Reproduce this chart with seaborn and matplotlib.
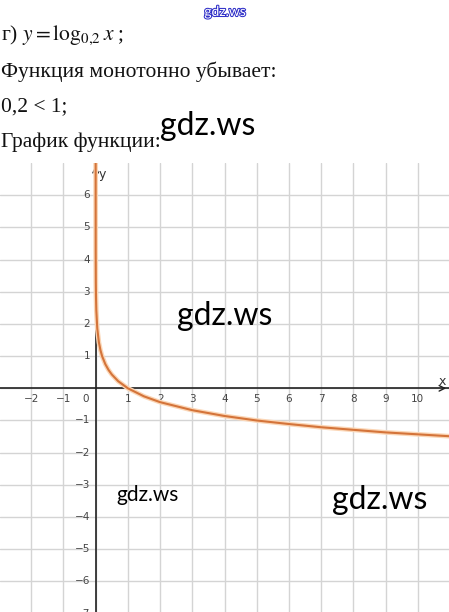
import numpy as np
import seaborn as sns
import matplotlib.pyplot as plt
import matplotlib.patheffects as pe

# points of y = log_0.2(x)
curve_x = [0.00001, 0.0001, 0.001, 0.005, 0.01, 0.02, 0.05, 0.1, 0.15, 0.2, 0.3,
           0.4, 0.5, 0.7, 1, 1.5, 2, 3, 4, 5, 6, 7, 8, 9, 10, 11]
curve_y = [7.15, 5.72, 4.29, 3.29, 2.86, 2.43, 1.86, 1.43, 1.18, 1.0, 0.75,
           0.57, 0.43, 0.22, 0.0, -0.25, -0.43, -0.68, -0.86, -1.0, -1.11,
           -1.21, -1.29, -1.37, -1.43, -1.49]

x_ticks = [-2, -1, 1, 2, 3, 4, 5, 6, 7, 8, 9, 10]
y_ticks = [6, 5, 4, 3, 2, 1, -1, -2, -3, -4, -5, -6, -7]

header_lines = [
    "г) $y = \\mathrm{log}_{0{,}2}\\, x$ ;",
    "Функция монотонно убывает:",
    "0,2 < 1;",
    "График функции:",
]

W, H = 449, 612

sns.set_style("white")
plt.rcParams["mathtext.fontset"] = "stix"
plt.rcParams["font.family"] = ["Liberation Serif", "DejaVu Serif"]

fig = plt.figure(figsize=(W / 100, H / 100), dpi=100)


def px(x, y):
    # pixel position -> figure fraction
    return x / W, 1 - y / H


# text above the graph
for line, yc in zip(header_lines, [35, 72, 107, 142]):
    fig.text(*px(1, yc), line, fontsize=15.5, va="center", ha="left", color="#111111")

# graph area
ax = fig.add_axes([0, 0, 1, 449 / H])
ax.set_xlim(-2.97, 10.97)
ax.set_ylim(-6.95, 7.0)
for s in ax.spines.values():
    s.set_visible(False)
ax.set_xticks([])
ax.set_yticks([])

for gx in range(-2, 11):
    ax.axvline(gx, color="#d4d4d4", lw=1.0, zorder=0)
for gy in range(-6, 7):
    ax.axhline(gy, color="#d4d4d4", lw=1.0, zorder=0)

ax.axhline(0, color="#222222", lw=1.2, zorder=1)
ax.axvline(0, color="#222222", lw=1.2, zorder=1)
ax.annotate("", xy=(10.97, 0), xytext=(10.7, 0),
            arrowprops=dict(arrowstyle="->", color="#222222", lw=1.0))
ax.annotate("", xy=(0, 7.0), xytext=(0, 6.7),
            arrowprops=dict(arrowstyle="->", color="#222222", lw=1.0))

lab_kw = dict(fontsize=7.5, color="#444444", family="DejaVu Sans")
for t in x_ticks:
    ax.text(t, -0.32, str(t).replace("-", "\u2212"), ha="center", va="center", **lab_kw)
ax.text(-0.3, -0.32, "0", ha="center", va="center", **lab_kw)
for t in y_ticks:
    ax.text(-0.17, t, str(t).replace("-", "\u2212"), ha="right", va="center", **lab_kw)
ax.text(10.75, 0.2, "x", ha="center", va="center", fontsize=9, color="#333333",
        family="DejaVu Sans")
ax.text(0.2, 6.65, "y", ha="center", va="center", fontsize=9, color="#333333",
        family="DejaVu Sans")

# the function graph
sns.lineplot(x=curve_x, y=curve_y, ax=ax, sort=False, estimator=None,
             color="#fbd6b6", lw=3.4, zorder=3)
sns.lineplot(x=curve_x, y=curve_y, ax=ax, sort=False, estimator=None,
             color="#d4743a", lw=1.5, zorder=4)

# watermarks
wm = dict(family=["Lato", "DejaVu Sans"], color="black", ha="center", va="center")
fig.text(*px(208, 126), "gdz.ws", fontsize=23, **wm)
fig.text(*px(225, 316), "gdz.ws", fontsize=23, **wm)
fig.text(*px(148, 495), "gdz.ws", fontsize=15, **wm)
fig.text(*px(380, 500), "gdz.ws", fontsize=23, **wm)
top = fig.text(*px(225, 12), "gdz.ws", fontsize=10, family=["Lato", "DejaVu Sans"],
               color="white", ha="center", va="center")
top.set_path_effects([pe.withStroke(linewidth=1.5, foreground="#3030c8")])

fig.savefig("out.png", dpi=100)
